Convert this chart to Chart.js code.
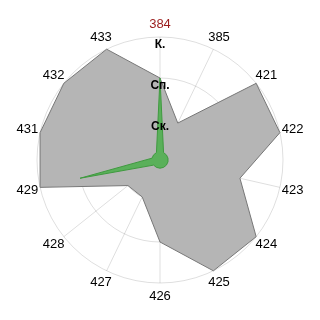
<!DOCTYPE html>
<html>
<head>
<meta charset="utf-8">
<script src="https://cdn.jsdelivr.net/npm/chart.js@4/dist/chart.umd.min.js"></script>
<style>
  body { margin: 0; background: #fff; }
  #wrap { width: 320px; height: 320px; }
</style>
</head>
<body>
<div id="wrap"><canvas id="radar" width="320" height="320"></canvas></div>
<script>
// axis labels (clockwise from top)
const labels = ["384", "385", "421", "422", "423", "424", "425", "426", "427", "428", "429", "431", "432", "433"];
// grey area values (1 = Ск., 2 = Сп., 3 = К.)
const greyValues = [2, 1, 3, 3, 2, 3, 3, 2, 1, 1, 3, 3, 3, 3];
// green area values
const greenValues = [2, 0.2, 0.2, 0.2, 0.2, 0.2, 0.2, 0.2, 0.2, 0.2, 2, 0.2, 0.2, 0.2];
// ring labels by value
const tickLabels = ["", "Ск.", "Сп.", "К."];

// axis names centred just outside the outer ring
const axisNames = {
  id: "axisNames",
  afterDraw(chart) {
    const scale = chart.scales.r;
    const c = chart.ctx;
    c.save();
    c.font = "13px 'Liberation Sans', Arial, sans-serif";
    c.textAlign = "center";
    c.textBaseline = "middle";
    chart.data.labels.forEach((name, i) => {
      const p = scale.getPointPosition(i, scale.drawingArea + 13);
      c.fillStyle = i === 0 ? "#9b1c1c" : "#000";
      c.fillText(name, p.x, p.y);
    });
    c.restore();
  },
};

document.addEventListener("DOMContentLoaded", () => {
  const ctx = document.getElementById("radar").getContext("2d");
  new Chart(ctx, {
    type: "radar",
    data: {
      labels: labels,
      datasets: [
        {
          data: greenValues,
          borderColor: "#3f9a3f",
          backgroundColor: "rgba(80, 175, 80, 0.9)",
          borderWidth: 1,
          pointRadius: 0,
        },
        {
          data: greyValues,
          borderColor: "#777777",
          backgroundColor: "#b5b5b5",
          borderWidth: 1,
          pointRadius: 0,
        },
      ],
    },
    options: {
      responsive: false,
      animation: false,
      layout: { padding: 31 },
      plugins: { legend: { display: false }, tooltip: { enabled: false } },
      scales: {
        r: {
          min: 0,
          max: 3,
          ticks: {
            stepSize: 1,
            z: 1,
            showLabelBackdrop: false,
            backdropPadding: 0,
            color: "#000",
            font: { family: "'Liberation Sans', Arial, sans-serif", size: 12, weight: "bold", lineHeight: "8px" },
            callback: (v) => ["", tickLabels[v] || ""],
          },
          grid: { circular: true, color: "rgba(0, 0, 0, 0.13)" },
          angleLines: { color: "rgba(0, 0, 0, 0.13)" },
          pointLabels: { display: false },
        },
      },
    },
    plugins: [axisNames],
  });
});
</script>
</body>
</html>
